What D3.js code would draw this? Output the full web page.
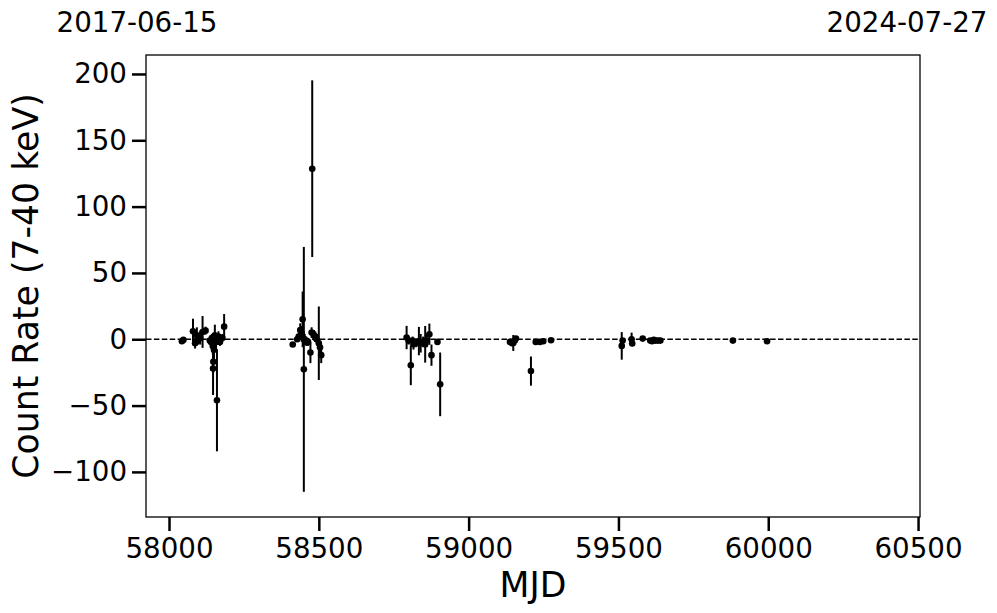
<!DOCTYPE html>
<html><head><meta charset="utf-8">
<script src="https://cdn.jsdelivr.net/npm/d3@7"></script>
<style>body{margin:0;background:#fff}svg{display:block}text{font-family:"DejaVu Sans",sans-serif;fill:#000}</style>
</head><body><div id="chart"></div>
<script>
const mjd = [58043,58048,58080,58087,58093,58097,58104,58112,58122,58136,58140,58143,58146,58147,58148,58150,58153,58157,58160,58165,58170,58178,58184,
58413,58428,58433,58438,58443,58446,58450,58453,58458,58464,58472,58476,58478,58484,58488,58493,58500,58504,58508,
58793,58800,58807,58813,58816,58825,58834,58840,58848,58855,58860,58869,58876,58896,58905,
59138,59145,59149,59154,59158,59208,59224,59238,59249,59275,
59511,59514,59544,59546,59581,59606,59612,59618,59624,59632,59640,
59882,59996];
const rate = [-1.5,-0.5,6,-3,3,-1,1,5.5,6.5,-1,-2,1,-5,-22,-17,-8,3,-2,-46,2,-2,1,9.5,
-4,0,2,7,4,15,-22.7,0,-2,-2,-10,5,128.6,3,2,0,-3,-6,-12,
1.3,-1,-19.6,-1,-3.8,-3,-1.4,-3,-2,-3.8,-1,3.8,-12,-2,-34,
-2,-3,-2.8,-1,0.5,-24,-2,-2,-1.5,-0.8,
-5,-1,0,-3.2,0.5,-1,-1.5,-0.5,-1,-1,-1,
-1,-1.5];
const err = [1,1,9.5,4,6,3,5,12,3,2,4,3,6,20,8,10,8,5,38.5,4,3,3,9.5,
1.5,2,3,5,6,21,92.3,4,3,3,8,4,66.6,4,4,3,27.7,5,6,
8.8,3,15,3,4,3,10.7,7,4,13.8,5,8,8,1.5,24,
2,2,6,2,2,11,1,1,1,1,
10.4,2,5,2,1,1,1.5,1,1.5,1,1,
1,1];
const xTicks = [58000,58500,59000,59500,60000,60500];
const yTicks = [-100,-50,0,50,100,150,200];
const topLeftLabel = "2017-06-15", topRightLabel = "2024-07-27";

const W=997,H=613, L=146,R=920,T=55,B=517;
const svg=d3.select("#chart").append("svg").attr("width",W).attr("height",H);
const x=d3.scaleLinear().domain([57923.2,60506.5]).range([L,R]);
const y=d3.scaleLinear().domain([214.3,-134]).range([T,B]);

// zero line
svg.append("line").attr("x1",L).attr("x2",R).attr("y1",y(0)).attr("y2",y(0))
  .attr("stroke","#000").attr("stroke-width",1.5).attr("stroke-dasharray","5.5,2.4");

const data=mjd.map((m,i)=>({m,r:rate[i],e:err[i]}));
const g=svg.append("g");
g.selectAll("line.eb").data(data).join("line").attr("class","eb")
  .attr("x1",d=>x(d.m)).attr("x2",d=>x(d.m)).attr("y1",d=>y(d.r-d.e)).attr("y2",d=>y(d.r+d.e))
  .attr("stroke","#000").attr("stroke-width",2);
g.selectAll("circle").data(data).join("circle")
  .attr("cx",d=>x(d.m)).attr("cy",d=>y(d.r)).attr("r",3.3).attr("fill","#000");

// axes
const xa=svg.append("g").attr("transform",`translate(0,${B})`)
  .call(d3.axisBottom(x).tickValues(xTicks).tickFormat(d3.format("d")).tickSize(14).tickPadding(6));
const ya=svg.append("g").attr("transform",`translate(${L},0)`)
  .call(d3.axisLeft(y).tickValues(yTicks).tickFormat(d=>d<0?"\u2212"+Math.abs(d):d).tickSize(14).tickPadding(5));
[xa,ya].forEach(a=>{a.select(".domain").remove();
  a.selectAll(".tick line").attr("stroke","#000").attr("stroke-width",2.5);
  a.selectAll(".tick text").attr("font-size",27.7).attr("font-family","DejaVu Sans").attr("fill","#000");});
xa.selectAll(".tick text").attr("dy","0.75em");

svg.append("rect").attr("x",L).attr("y",T).attr("width",R-L).attr("height",B-T)
  .attr("fill","none").attr("stroke","#000").attr("stroke-width",1.3);

svg.append("text").attr("x",(L+R)/2).attr("y",597).attr("text-anchor","middle").attr("font-size",34.7).text("MJD");
svg.append("text").attr("transform",`translate(38,${(T+B)/2}) rotate(-90)`).attr("text-anchor","middle").attr("font-size",34.7).text("Count Rate (7-40 keV)");
svg.append("text").attr("x",137).attr("y",32).attr("text-anchor","middle").attr("font-size",27.7).text(topLeftLabel);
svg.append("text").attr("x",907).attr("y",32).attr("text-anchor","middle").attr("font-size",27.7).text(topRightLabel);
</script></body></html>
